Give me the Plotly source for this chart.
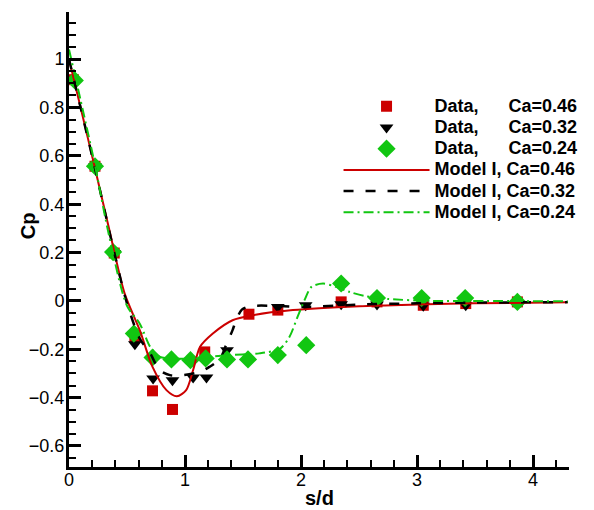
import plotly.graph_objects as go

# ---- data ----
s_data_046 = [0.037, 0.224, 0.39, 0.568, 0.72, 0.892, 1.17, 1.551, 1.80, 2.346, 2.655, 3.054, 3.42, 3.865]
cp_data_046 = [0.915, 0.557, 0.198, -0.149, -0.372, -0.449, -0.211, -0.055, -0.038, -0.004, -0.004, -0.018, -0.011, -0.004]

s_data_032 = [0.037, 0.224, 0.39, 0.568, 0.725, 0.892, 1.07, 1.185, 1.362, 1.80, 2.04, 2.346, 2.655, 3.054, 3.42, 3.865]
cp_data_032 = [0.915, 0.557, 0.198, -0.179, -0.321, -0.328, -0.317, -0.317, -0.204, -0.025, -0.018, -0.014, -0.015, -0.02, -0.018, -0.01]

s_data_024 = [0.05, 0.224, 0.38, 0.559, 0.72, 0.883, 1.047, 1.178, 1.362, 1.543, 1.80, 2.045, 2.346, 2.655, 3.04, 3.415, 3.865]
cp_data_024 = [0.912, 0.557, 0.202, -0.135, -0.234, -0.242, -0.245, -0.238, -0.242, -0.242, -0.224, -0.183, 0.072, 0.012, 0.012, 0.012, -0.004]

s_model_046 = [0.0, 0.1, 0.22, 0.34, 0.48, 0.61, 0.72, 0.84, 0.93, 1.01, 1.07, 1.13, 1.24, 1.41, 1.59, 1.93, 2.5, 3.0, 3.5, 4.3]
cp_model_046 = [1.0, 0.8, 0.557, 0.31, 0.03, -0.121, -0.273, -0.369, -0.394, -0.369, -0.286, -0.19, -0.135, -0.08, -0.059, -0.038, -0.022, -0.015, -0.01, -0.006]

s_model_032 = [0.0, 0.1, 0.22, 0.39, 0.5, 0.61, 0.70, 0.78, 0.87, 0.98, 1.13, 1.21, 1.30, 1.36, 1.41, 1.44, 1.49, 1.56, 1.76, 2.04, 2.5, 3.0, 3.5, 4.3]
cp_model_032 = [1.0, 0.8, 0.557, 0.2, -0.01, -0.156, -0.217, -0.286, -0.307, -0.307, -0.293, -0.273, -0.24, -0.176, -0.121, -0.08, -0.036, -0.022, -0.02, -0.025, -0.015, -0.01, -0.007, -0.005]

s_model_024 = [0.0, 0.1, 0.22, 0.35, 0.5, 0.61, 0.70, 0.78, 0.9, 1.1, 1.36, 1.64, 1.82, 1.90, 1.97, 2.03, 2.09, 2.19, 2.30, 2.42, 2.55, 2.75, 3.13, 3.6, 4.3]
cp_model_024 = [1.04, 0.83, 0.57, 0.26, -0.02, -0.094, -0.19, -0.231, -0.238, -0.238, -0.224, -0.217, -0.197, -0.149, -0.066, 0.003, 0.058, 0.072, 0.058, 0.037, 0.02, 0.008, 0.0, 0.0, -0.002]

x_range = [0, 4.31]
y_range = [-0.687, 1.195]

RED = "#CC0000"
BLACK = "#000000"
GREEN = "#11C611"
NB = "\u00a0"


def legend_label(t):
    return '<span style="font-size:18px">' + t + "</span>"


fig = go.Figure()
fig.add_trace(go.Scatter(x=s_data_046, y=cp_data_046, mode="markers",
                         name=legend_label("Data," + NB * 6 + "Ca=0.46"),
                         marker=dict(symbol="square", size=11, color=RED)))
fig.add_trace(go.Scatter(x=s_data_032, y=cp_data_032, mode="markers",
                         name=legend_label("Data," + NB * 6 + "Ca=0.32"),
                         marker=dict(symbol="triangle-down", size=12, color=BLACK)))
fig.add_trace(go.Scatter(x=s_data_024, y=cp_data_024, mode="markers",
                         name=legend_label("Data," + NB * 6 + "Ca=0.24"),
                         marker=dict(symbol="diamond", size=14, color=GREEN)))
fig.add_trace(go.Scatter(x=s_model_046, y=cp_model_046, mode="lines",
                         name=legend_label("Model I, Ca=0.46"),
                         line=dict(color=RED, width=2, shape="spline", smoothing=0.8)))
fig.add_trace(go.Scatter(x=s_model_032, y=cp_model_032, mode="lines",
                         name=legend_label("Model I, Ca=0.32"),
                         line=dict(color=BLACK, width=2.5, dash="10px,12px", shape="spline", smoothing=0.8)))
fig.add_trace(go.Scatter(x=s_model_024, y=cp_model_024, mode="lines",
                         name=legend_label("Model I, Ca=0.24"),
                         line=dict(color=GREEN, width=2, dash="10px,4px,2px,4px", shape="spline", smoothing=0.8)))

axis_common = dict(showline=True, linecolor="black", linewidth=3, showgrid=False, zeroline=False,
                   ticks="inside", tickcolor="black", tickwidth=2.5, ticklen=12,
                   tickfont=dict(family="Liberation Sans, Arial", size=18, color="black"))

fig.update_xaxes(range=x_range, dtick=1, tick0=0, ticklabelstandoff=-6,
                 minor=dict(dtick=0.2, ticks="inside", ticklen=7, tickwidth=1.5, tickcolor="black"),
                 **axis_common)
fig.update_yaxes(range=y_range, dtick=0.2, tick0=0, ticklabelstandoff=-2,
                 minor=dict(dtick=0.05, ticks="inside", ticklen=7, tickwidth=1.5, tickcolor="black"),
                 **axis_common)

fig.add_annotation(text="<b>Cp</b>", xref="paper", yref="paper", x=-0.082, y=0.529,
                   showarrow=False, textangle=-90, xanchor="center", yanchor="middle",
                   font=dict(family="Liberation Sans, Arial", size=20, color="black"))
fig.add_annotation(text="<b>s/d</b>", xref="paper", yref="paper", x=0.5, y=-0.068,
                   showarrow=False, xanchor="center", yanchor="middle",
                   font=dict(family="Liberation Sans, Arial", size=20, color="black"))

fig.update_layout(
    width=594, height=510,
    margin=dict(l=69, r=23.5, t=12, b=43, pad=0),
    plot_bgcolor="white", paper_bgcolor="white",
    legend=dict(x=0.538, y=0.827, xanchor="left", yanchor="top", bgcolor="rgba(0,0,0,0)",
                itemwidth=86, font=dict(family="Liberation Sans, Arial", size=14, color="black", weight="bold")),
)

fig.write_html("out.html")
